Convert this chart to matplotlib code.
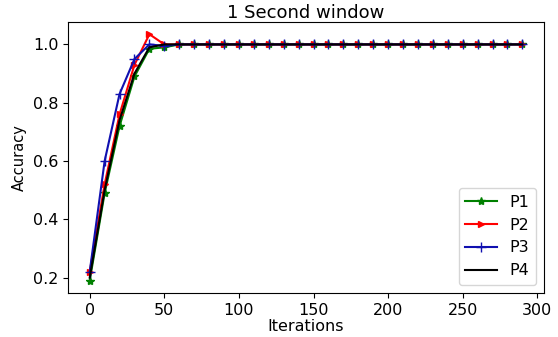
import matplotlib
matplotlib.use("Agg")
import matplotlib.pyplot as plt
import numpy as np

iterations = list(range(0, 300, 10))
p1 = [0.19, 0.49, 0.72, 0.89, 0.985, 0.99, 1.0] + [1.0] * 23
p2 = [0.22, 0.52, 0.76, 0.93, 1.035, 1.0, 1.0] + [1.0] * 23
p3 = [0.22, 0.60, 0.83, 0.95, 1.0, 0.995, 1.0] + [1.0] * 23
p4 = [0.20, 0.50, 0.74, 0.90, 0.99, 1.0, 1.0] + [1.0] * 23

fig, ax = plt.subplots(figsize=(5.58, 3.37), dpi=100)
ms = 5
ax.plot(iterations, p1, color="green", marker="*", markersize=ms + 1, label="P1")
ax.plot(iterations, p2, color="red", marker=">", markersize=ms, label="P2")
ax.plot(iterations, p3, color="#1010b0", marker="+", markersize=ms + 2, label="P3")
ax.plot(iterations, p4, color="black", label="P4")
ax.set_title("1 Second window", fontsize=13, pad=2.5)
ax.set_xlabel("Iterations", fontsize=11.5, labelpad=1)
ax.set_ylabel("Accuracy", fontsize=10.5)
ax.set_yticks([0.2, 0.4, 0.6, 0.8, 1.0])
ax.set_xticks([0, 50, 100, 150, 200, 250, 300])
ax.tick_params(labelsize=11.5)
ax.legend(loc="lower right", fontsize=11.5)
fig.subplots_adjust(left=0.122, right=0.975, top=0.935, bottom=0.131)
fig.savefig("out.png", dpi=100)
